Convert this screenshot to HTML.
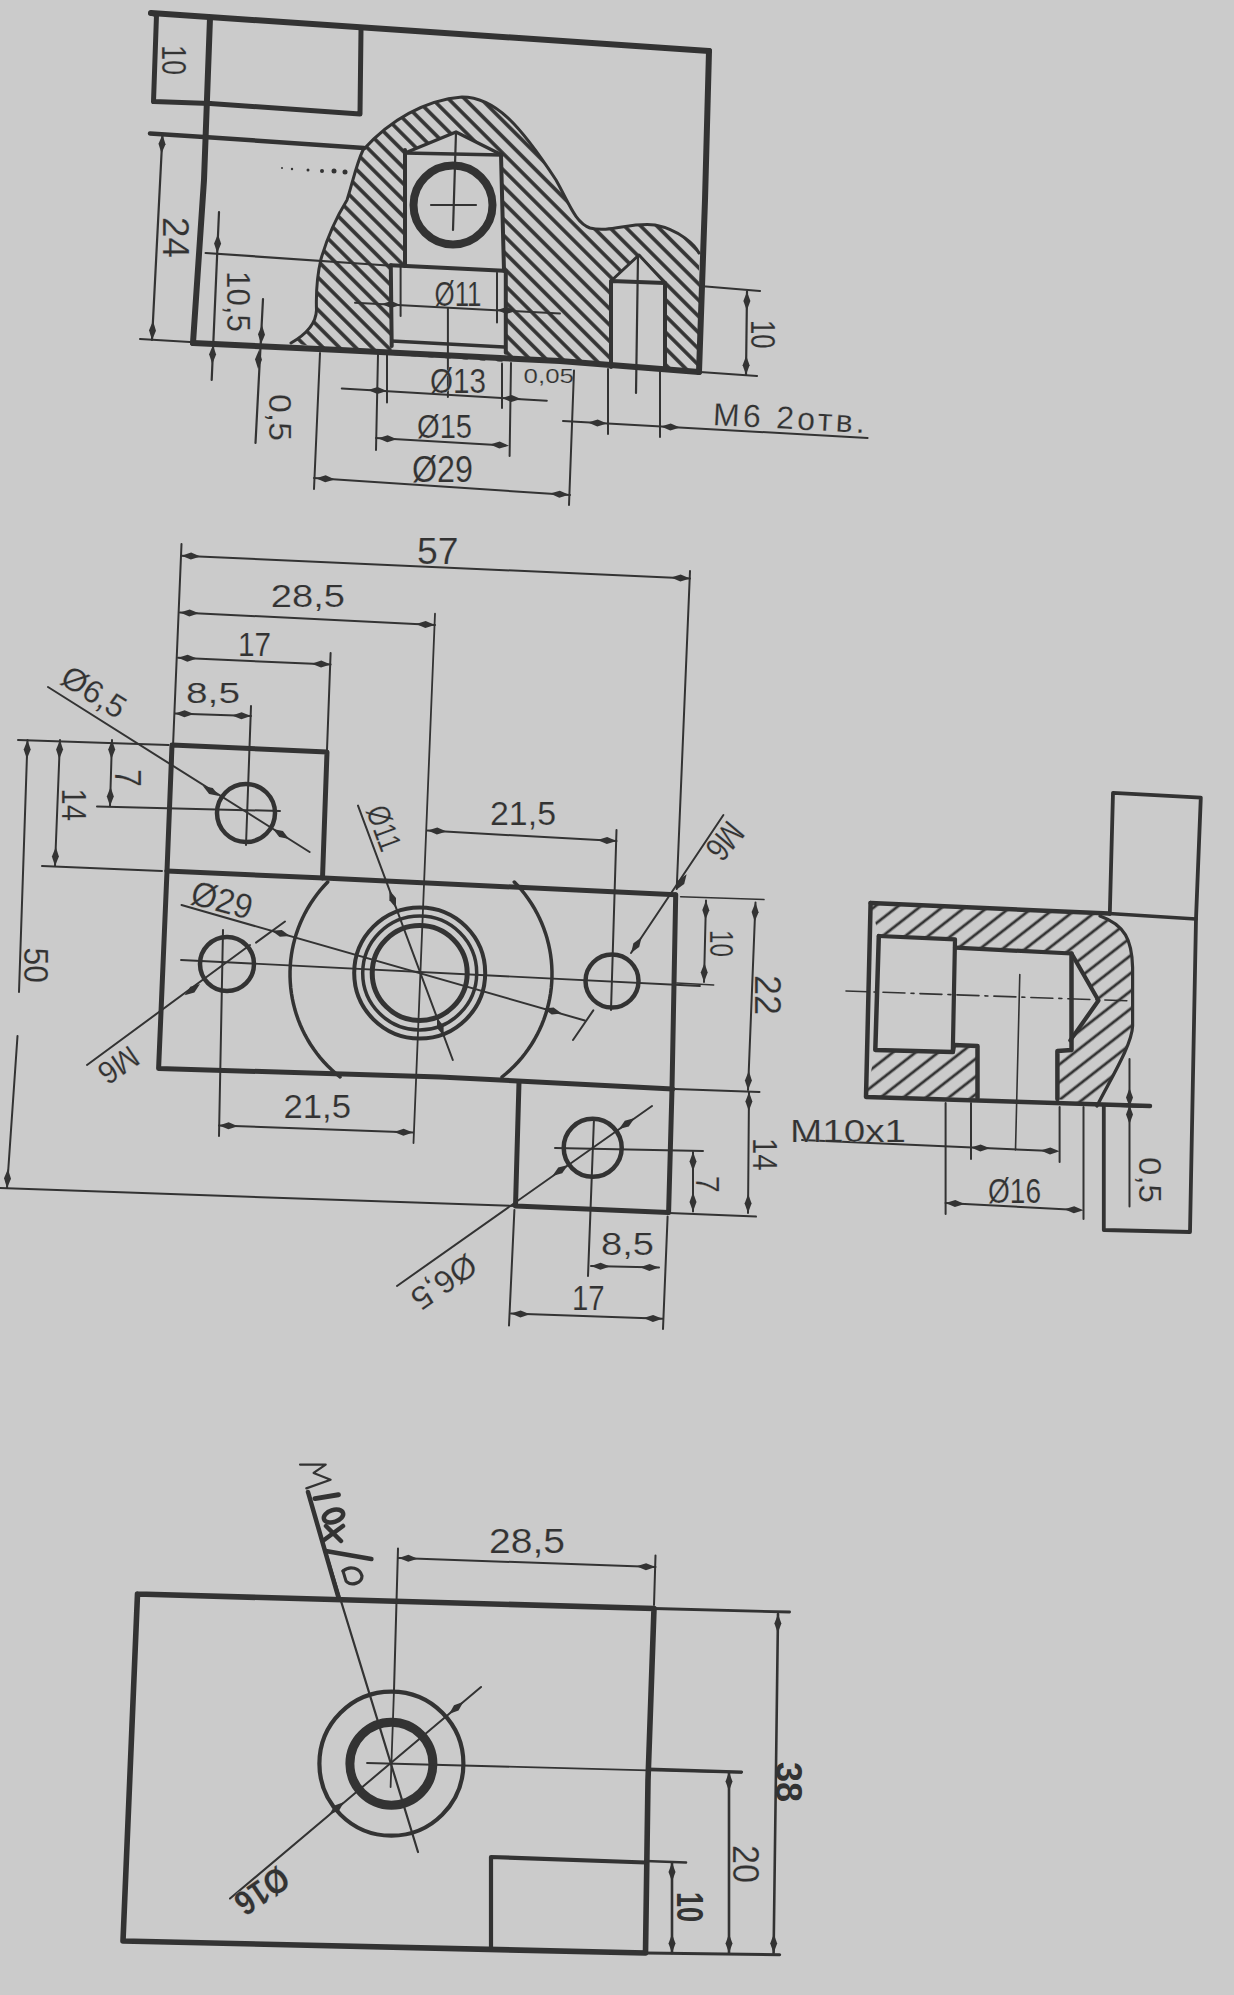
<!DOCTYPE html>
<html><head><meta charset="utf-8"><style>html,body{margin:0;padding:0;background:#cbcbcb;}svg{display:block;}</style></head>
<body><svg width="1234" height="1995" viewBox="0 0 1234 1995">
<defs>
<pattern id="hA" patternUnits="userSpaceOnUse" width="14" height="14" patternTransform="rotate(52)"><line x1="7" y1="0" x2="7" y2="14" stroke="#333" stroke-width="2.8"/></pattern>
<pattern id="hB" patternUnits="userSpaceOnUse" width="11.5" height="11.5" patternTransform="rotate(-45)"><line x1="5.75" y1="0" x2="5.75" y2="11.5" stroke="#333" stroke-width="3.6"/></pattern>
</defs>
<rect width="1234" height="1995" fill="#cbcbcb"/>
<g stroke="#333" fill="none" stroke-linecap="round" stroke-linejoin="round" font-family="'Liberation Sans', sans-serif">
<polyline points="151,13 430,32 709,51" stroke-width="6.0" fill="none"/>
<polyline points="709,51 705,200 699,372" stroke-width="6.0" fill="none"/>
<polyline points="210,18 204,180 193,343" stroke-width="6.0" fill="none"/>
<polyline points="193,343 340,350 560,361 699,372" stroke-width="6" fill="none"/>
<polyline points="151,13 156.5,15 153.5,101.5 210,103.5" stroke-width="5" fill="none"/>
<polyline points="210,103.5 360,114 361,30" stroke-width="5" fill="none"/>
<polyline points="150,133.5 204,137 364,148" stroke-width="4.5" fill="none"/>
<path d="M291,343 C305,335 316,325 316.5,310 C316,295 316,280 321,259 C328,235 336,218 347,200 C352,185 356,165 363,150 C390,120 425,100 462,97 C495,97 520,125 556,180 C570,205 575,222 590,228 C610,233 630,222 655,225 C680,230 695,245 699,253 L699,372 L560,361 L340,350 Z M405,153 L456,132 L502,155 L504,270.7 L505.8,362 L391.7,355 L390.8,265.3 L405,266 Z M611,367 L611,281 L639,255 L664,282 L665,369 Z" stroke-width="0" fill="url(#hB)" fill-rule="evenodd" stroke="none"/>
<path d="M291,343 C305,335 316,325 316.5,310 C316,295 316,280 321,259 C328,235 336,218 347,200 C352,185 356,165 363,150 C390,120 425,100 462,97 C495,97 520,125 556,180 C570,205 575,222 590,228 C610,233 630,222 655,225 C680,230 695,245 699,253" stroke-width="3" fill="none" />
<polyline points="405,153 456,132 502,155" stroke-width="3.5" fill="none"/>
<polyline points="405,153 502,155" stroke-width="3.5" fill="none"/>
<polyline points="405,150 405,266" stroke-width="4" fill="none"/>
<polyline points="501,155 504,270.7" stroke-width="4" fill="none"/>
<polyline points="390.8,265.3 504,270.7" stroke-width="4" fill="none"/>
<polyline points="390.8,265.3 391.7,346" stroke-width="4" fill="none"/>
<polyline points="505.8,270.7 505.8,352.7" stroke-width="4" fill="none"/>
<polyline points="391.7,341 504,347" stroke-width="3.5" fill="none"/>
<circle cx="453" cy="205" r="39.5" stroke-width="8"/>
<line x1="431" y1="205" x2="476" y2="205" stroke-width="2.2"/>
<line x1="456" y1="132" x2="453" y2="230" stroke-width="2.2"/>
<polyline points="611,367 611,281 665,283 665,369" stroke-width="4" fill="none"/>
<polyline points="611,281 639,255 665,283" stroke-width="3" fill="none"/>
<line x1="638" y1="255" x2="636" y2="393" stroke-width="2.2"/>
<circle cx="282" cy="168" r="1" fill="#333" stroke="none"/>
<circle cx="292" cy="169" r="1.2" fill="#333" stroke="none"/>
<circle cx="308" cy="170" r="1.5" fill="#333" stroke="none"/>
<circle cx="322" cy="171" r="2" fill="#333" stroke="none"/>
<circle cx="334" cy="171" r="2.5" fill="#333" stroke="none"/>
<circle cx="345" cy="172" r="2.5" fill="#333" stroke="none"/>
<text transform="translate(174.0,60.0) rotate(90)" x="0" y="12.0" font-size="34.8" textLength="30.1" lengthAdjust="spacingAndGlyphs" text-anchor="middle" fill="#333" stroke="#cbcbcb" stroke-width="0.2" font-weight="normal">10</text>
<line x1="162.5" y1="134.5" x2="152" y2="340" stroke-width="2.2"/>
<polygon points="162.5,134.5 165.5,144.2 161.5,153.5 158.5,143.8" fill="#333" stroke="none"/>
<polygon points="152.0,340.0 149.0,330.3 153.0,321.0 156.0,330.7" fill="#333" stroke="none"/>
<line x1="140" y1="339" x2="190" y2="342" stroke-width="2"/>
<text transform="translate(176.0,237.5) rotate(90)" x="0" y="13.0" font-size="37.7" textLength="41.1" lengthAdjust="spacingAndGlyphs" text-anchor="middle" fill="#333" stroke="#cbcbcb" stroke-width="0.2" font-weight="normal">24</text>
<line x1="219" y1="212" x2="211.7" y2="380" stroke-width="2.2"/>
<polygon points="217.2,253.0 214.1,243.4 218.0,234.0 221.1,243.7" fill="#333" stroke="none"/>
<polygon points="213.0,345.0 216.1,354.6 212.2,364.0 209.1,354.3" fill="#333" stroke="none"/>
<line x1="205.6" y1="253" x2="395" y2="266" stroke-width="2.2"/>
<text transform="translate(238.1,301.5) rotate(90)" x="0" y="11.4" font-size="32.9" textLength="61.0" lengthAdjust="spacingAndGlyphs" text-anchor="middle" fill="#333" stroke="#cbcbcb" stroke-width="0.2" font-weight="normal">10,5</text>
<line x1="263" y1="299" x2="255.5" y2="443" stroke-width="2.2"/>
<polygon points="261.0,344.0 258.0,334.3 261.9,325.0 265.0,334.7" fill="#333" stroke="none"/>
<polygon points="259.0,350.0 262.0,359.7 258.1,369.0 255.0,359.3" fill="#333" stroke="none"/>
<text transform="translate(280.0,417.5) rotate(90)" x="0" y="11.0" font-size="31.9" textLength="47.0" lengthAdjust="spacingAndGlyphs" text-anchor="middle" fill="#333" stroke="#cbcbcb" stroke-width="0.2" font-weight="normal">0,5</text>
<line x1="355" y1="302.8" x2="560" y2="313.5" stroke-width="2"/>
<polygon points="400.6,305.0 390.9,308.0 381.6,304.1 391.3,301.0" fill="#333" stroke="none"/>
<polygon points="497.0,310.0 506.7,307.0 516.0,310.9 506.3,314.0" fill="#333" stroke="none"/>
<line x1="400.6" y1="267" x2="400.6" y2="316" stroke-width="2"/>
<line x1="497" y1="272.5" x2="497" y2="322.4" stroke-width="2"/>
<text transform="translate(458.0,294.0) rotate(0)" x="0" y="12.0" font-size="34.8" textLength="47.0" lengthAdjust="spacingAndGlyphs" text-anchor="middle" fill="#333" stroke="#cbcbcb" stroke-width="0.2" font-weight="normal">Ø11</text>
<line x1="447.9" y1="308" x2="447.9" y2="397" stroke-width="2"/>
<line x1="341.8" y1="388.4" x2="546.8" y2="400.8" stroke-width="2"/>
<polygon points="387.0,391.0 377.3,393.9 368.0,389.9 377.7,386.9" fill="#333" stroke="none"/>
<polygon points="502.0,398.0 511.7,395.1 521.0,399.1 511.3,402.1" fill="#333" stroke="none"/>
<line x1="387" y1="354.5" x2="387" y2="402.6" stroke-width="2"/>
<line x1="502" y1="363.4" x2="502" y2="408" stroke-width="2"/>
<text transform="translate(458.0,381.0) rotate(0)" x="0" y="12.0" font-size="34.8" textLength="56.0" lengthAdjust="spacingAndGlyphs" text-anchor="middle" fill="#333" stroke="#cbcbcb" stroke-width="0.2" font-weight="normal">Ø13</text>
<text transform="translate(548.8,376.3) rotate(0)" x="0" y="6.7" font-size="19.4" textLength="50.4" lengthAdjust="spacingAndGlyphs" text-anchor="middle" fill="#333" stroke="#cbcbcb" stroke-width="0.2" font-weight="normal">0,05</text>
<line x1="376" y1="438" x2="505" y2="445.5" stroke-width="2"/>
<polygon points="378.0,438.2 387.7,435.3 397.0,439.3 387.3,442.3" fill="#333" stroke="none"/>
<polygon points="509.0,445.7 499.3,448.6 490.0,444.6 499.7,441.6" fill="#333" stroke="none"/>
<line x1="378" y1="354.5" x2="376" y2="450" stroke-width="2"/>
<line x1="511" y1="363" x2="509.6" y2="456" stroke-width="2"/>
<text transform="translate(444.5,426.5) rotate(0)" x="0" y="11.5" font-size="33.3" textLength="55.0" lengthAdjust="spacingAndGlyphs" text-anchor="middle" fill="#333" stroke="#cbcbcb" stroke-width="0.2" font-weight="normal">Ø15</text>
<line x1="314" y1="478" x2="570" y2="495" stroke-width="2"/>
<polygon points="316.0,478.2 325.7,475.3 335.0,479.5 325.2,482.3" fill="#333" stroke="none"/>
<polygon points="569.0,494.8 559.3,497.7 550.0,493.5 559.8,490.7" fill="#333" stroke="none"/>
<line x1="320" y1="353" x2="314" y2="489" stroke-width="2"/>
<line x1="574" y1="370.5" x2="569" y2="505" stroke-width="2"/>
<text transform="translate(442.5,469.5) rotate(0)" x="0" y="12.5" font-size="36.2" textLength="61.0" lengthAdjust="spacingAndGlyphs" text-anchor="middle" fill="#333" stroke="#cbcbcb" stroke-width="0.2" font-weight="normal">Ø29</text>
<line x1="563" y1="421" x2="867.6" y2="438" stroke-width="2"/>
<polygon points="607.0,423.5 597.3,426.5 588.0,422.4 597.7,419.5" fill="#333" stroke="none"/>
<polygon points="661.0,426.5 670.7,423.5 680.0,427.6 670.3,430.5" fill="#333" stroke="none"/>
<line x1="608" y1="369" x2="608" y2="434" stroke-width="2"/>
<line x1="660" y1="372" x2="660" y2="437" stroke-width="2"/>
<text transform="translate(789.0,418.0) rotate(3)" x="0" y="11.0" font-size="31.9" textLength="152.0" lengthAdjust="spacing" text-anchor="middle" fill="#333" stroke="#cbcbcb" stroke-width="0.2" font-weight="normal">M6 2отв.</text>
<line x1="700" y1="286" x2="760" y2="291" stroke-width="2.2"/>
<line x1="700" y1="372" x2="757" y2="376" stroke-width="2.2"/>
<line x1="747" y1="291.6" x2="746" y2="374.8" stroke-width="2.2"/>
<polygon points="747.0,291.6 750.4,301.1 746.8,310.6 743.4,301.1" fill="#333" stroke="none"/>
<polygon points="746.0,374.8 742.6,365.3 746.2,355.8 749.6,365.3" fill="#333" stroke="none"/>
<text transform="translate(763.0,334.2) rotate(90)" x="0" y="12.0" font-size="34.8" textLength="28.6" lengthAdjust="spacingAndGlyphs" text-anchor="middle" fill="#333" stroke="#cbcbcb" stroke-width="0.2" font-weight="normal">10</text>
<polyline points="167,871 172,745 327,752 322.5,878" stroke-width="5.0" fill="none"/>
<polyline points="167,871 158.6,1068.4 440,1077 672.7,1089" stroke-width="5.0" fill="none"/>
<polyline points="167,871 324,878 675.7,894.8" stroke-width="5.0" fill="none"/>
<polyline points="675.7,894.8 672,1089 668.6,1212.5" stroke-width="5.0" fill="none"/>
<polyline points="519,1082 515.5,1206 668.6,1212.5" stroke-width="5.0" fill="none"/>
<polyline points="327.7422925437259,882.0 323.9543190253115,886.004910340639 320.3381903309977,890.1656390603378 316.90030976480756,894.4748184979312 313.64676499571544,898.9248181213335 310.5833172778333,903.5077580393958 307.71539124859913,908.21552295532 305.0480653230344,913.0397765369196 302.5860627010785,917.9719761782812 300.3337430039248,923.003388126689 298.2950945541683,928.1251029480228 296.47372731343467,933.3280513032488 294.87286648999645,938.6030200080609 293.49534682769655,943.9406683472401 292.34360758629066,949.33154461484 291.4196882220982,954.7661028509101 290.7252247766106,960.2347197451209 290.2614469794503,965.7277116773585 290.02917607081235,971.2353518651128 290.02882334724336,976.7478875872966 290.2603894333329,982.2555574539952 290.7234642806074,987.7486086915668 291.41722789362905,993.2173144124858 292.3404517820122,998.6519908393475 293.49150113578776,1004.0430144525344 294.8683377202632,1009.3808390311822 296.46852348525124,1014.656012557266 298.289224882277,1019.8591939528771 300.3272178821187,1024.9811696210509 302.57889368379676,1030.0128697608548 305.04026510490183,1034.9453844278512 307.70697364194723,1039.769979311488 310.57429718824176,1044.4781112014875 313.63715839561803,1049.0614431158394 316.89013366520857,1053.511859063613 320.3274627513498,1057.8214784164484 323.9430589616072,1061.9826698632744 327.7305199348606,1065.9880649235463 331.6831389783626,1069.8305709950719 335.79391694369735,1073.5033839133246 340.05557462060773,1077.0" stroke-width="3.5" fill="none"/>
<polyline points="514.2577074562741,882.0 518.0456809746885,886.004910340639 521.6618096690023,890.1656390603379 525.0996902351925,894.4748184979312 528.3532350042846,898.9248181213335 531.4166827221667,903.5077580393958 534.2846087514008,908.21552295532 536.9519346769656,913.0397765369196 539.4139372989215,917.9719761782812 541.6662569960752,923.003388126689 543.7049054458317,928.1251029480229 545.5262726865653,933.3280513032488 547.1271335100035,938.6030200080609 548.5046531723035,943.9406683472401 549.6563924137093,949.3315446148401 550.5803117779018,954.7661028509101 551.2747752233894,960.2347197451209 551.7385530205497,965.7277116773585 551.9708239291876,971.2353518651128 551.9711766527566,976.7478875872966 551.7396105666671,982.2555574539952 551.2765357193925,987.7486086915668 550.582772106371,993.217314412486 549.6595482179878,998.6519908393475 548.5084988642122,1004.0430144525344 547.1316622797368,1009.3808390311822 545.5314765147488,1014.656012557266 543.710775117723,1019.8591939528773 541.6727821178813,1024.9811696210509 539.4211063162032,1030.0128697608548 536.9597348950981,1034.9453844278512 534.2930263580528,1039.769979311488 531.4257028117582,1044.4781112014875 528.362841604382,1049.0614431158394 525.1098663347914,1053.511859063613 521.6725372486502,1057.8214784164486 518.0569410383928,1061.9826698632746 514.2694800651394,1065.9880649235463 510.3168610216374,1069.8305709950719 506.2060830563026,1073.5033839133246 501.9444253793922,1077.0" stroke-width="3.5" fill="none"/>
<circle cx="419.7" cy="973" r="65.5" stroke-width="4"/>
<circle cx="419.7" cy="973" r="57" stroke-width="3.5"/>
<circle cx="419.7" cy="973" r="47.5" stroke-width="5"/>
<circle cx="246" cy="813" r="29" stroke-width="4.5"/>
<circle cx="227" cy="964" r="27" stroke-width="4.5"/>
<circle cx="612" cy="981" r="26.5" stroke-width="4.5"/>
<circle cx="592.7" cy="1147.8" r="29" stroke-width="4.5"/>
<line x1="181" y1="960" x2="700" y2="986" stroke-width="1.8"/>
<line x1="435" y1="613.7" x2="413.5" y2="1143" stroke-width="1.8"/>
<line x1="181.5" y1="544" x2="172" y2="770" stroke-width="2"/>
<line x1="690" y1="571" x2="676.7" y2="889" stroke-width="2"/>
<line x1="330.6" y1="653" x2="327" y2="750" stroke-width="2"/>
<line x1="251" y1="706" x2="246" y2="845" stroke-width="2"/>
<line x1="616.5" y1="830" x2="611" y2="1010" stroke-width="2"/>
<line x1="223" y1="930" x2="219" y2="1136" stroke-width="2"/>
<line x1="594" y1="1118" x2="588" y2="1276" stroke-width="2"/>
<line x1="555" y1="1148" x2="703" y2="1151" stroke-width="2"/>
<line x1="97" y1="806.5" x2="280" y2="811" stroke-width="2"/>
<line x1="18" y1="740" x2="168.6" y2="745" stroke-width="2"/>
<line x1="42" y1="866" x2="162" y2="871" stroke-width="2"/>
<line x1="674.4" y1="1089" x2="759.5" y2="1092" stroke-width="2"/>
<line x1="669" y1="1213" x2="756" y2="1216.6" stroke-width="2"/>
<line x1="680.6" y1="896.7" x2="764" y2="899.6" stroke-width="1.5"/>
<line x1="676.7" y1="983" x2="713.7" y2="985" stroke-width="1.5"/>
<line x1="0" y1="1188" x2="514" y2="1206" stroke-width="2"/>
<line x1="181.5" y1="555.7" x2="690" y2="578.5" stroke-width="2"/>
<polygon points="181.5,555.7 191.1,552.6 200.5,556.6 190.8,559.6" fill="#333" stroke="none"/>
<polygon points="690.0,578.5 680.4,581.6 671.0,577.6 680.7,574.6" fill="#333" stroke="none"/>
<text transform="translate(437.8,551.5) rotate(0)" x="0" y="12.5" font-size="36.2" textLength="41.6" lengthAdjust="spacingAndGlyphs" text-anchor="middle" fill="#333" stroke="#cbcbcb" stroke-width="0.2" font-weight="normal">57</text>
<line x1="180" y1="612.4" x2="435" y2="625" stroke-width="2"/>
<polygon points="180.0,612.4 189.7,609.4 199.0,613.3 189.3,616.4" fill="#333" stroke="none"/>
<polygon points="435.0,625.0 425.3,628.0 416.0,624.1 425.7,621.0" fill="#333" stroke="none"/>
<text transform="translate(307.9,596.0) rotate(0)" x="0" y="11.0" font-size="31.9" textLength="74.3" lengthAdjust="spacingAndGlyphs" text-anchor="middle" fill="#333" stroke="#cbcbcb" stroke-width="0.2" font-weight="normal">28,5</text>
<line x1="178" y1="657.8" x2="330.6" y2="664.5" stroke-width="2"/>
<polygon points="178.0,657.8 187.6,654.7 197.0,658.6 187.3,661.7" fill="#333" stroke="none"/>
<polygon points="330.6,664.5 321.0,667.6 311.6,663.7 321.3,660.6" fill="#333" stroke="none"/>
<text transform="translate(254.5,644.5) rotate(0)" x="0" y="11.5" font-size="33.3" textLength="33.1" lengthAdjust="spacingAndGlyphs" text-anchor="middle" fill="#333" stroke="#cbcbcb" stroke-width="0.2" font-weight="normal">17</text>
<line x1="175" y1="713.5" x2="251" y2="716" stroke-width="2"/>
<polygon points="175.0,713.5 184.6,710.3 194.0,714.1 184.4,717.3" fill="#333" stroke="none"/>
<polygon points="251.0,716.0 241.4,719.2 232.0,715.4 241.6,712.2" fill="#333" stroke="none"/>
<text transform="translate(213.0,692.5) rotate(0)" x="0" y="10.5" font-size="30.4" textLength="54.0" lengthAdjust="spacingAndGlyphs" text-anchor="middle" fill="#333" stroke="#cbcbcb" stroke-width="0.2" font-weight="normal">8,5</text>
<line x1="27.5" y1="740" x2="19" y2="992" stroke-width="2"/>
<line x1="17.5" y1="1036" x2="7" y2="1188" stroke-width="2"/>
<polygon points="27.5,740.0 30.7,749.6 26.9,759.0 23.7,749.4" fill="#333" stroke="none"/>
<polygon points="7.0,1188.0 4.0,1178.3 7.9,1169.0 11.0,1178.7" fill="#333" stroke="none"/>
<text transform="translate(36.3,965.2) rotate(90)" x="0" y="12.3" font-size="35.7" textLength="35.6" lengthAdjust="spacingAndGlyphs" text-anchor="middle" fill="#333" stroke="#cbcbcb" stroke-width="0.2" font-weight="normal">50</text>
<line x1="60" y1="740" x2="55" y2="866" stroke-width="2"/>
<polygon points="60.0,740.0 63.1,749.6 59.2,759.0 56.1,749.4" fill="#333" stroke="none"/>
<polygon points="55.0,866.0 51.9,856.4 55.8,847.0 58.9,856.6" fill="#333" stroke="none"/>
<text transform="translate(73.8,804.8) rotate(90)" x="0" y="12.2" font-size="35.4" textLength="32.5" lengthAdjust="spacingAndGlyphs" text-anchor="middle" fill="#333" stroke="#cbcbcb" stroke-width="0.2" font-weight="normal">14</text>
<line x1="112" y1="740" x2="110" y2="806" stroke-width="2"/>
<polygon points="112.0,740.0 115.2,749.6 111.4,759.0 108.2,749.4" fill="#333" stroke="none"/>
<polygon points="110.0,806.0 106.8,796.4 110.6,787.0 113.8,796.6" fill="#333" stroke="none"/>
<text transform="translate(128.0,778.0) rotate(90)" x="0" y="13.0" font-size="37.7" textLength="18.0" lengthAdjust="spacingAndGlyphs" text-anchor="middle" fill="#333" stroke="#cbcbcb" stroke-width="0.2" font-weight="normal">7</text>
<line x1="48" y1="687" x2="309.6" y2="852" stroke-width="2"/>
<polygon points="219.0,796.0 209.1,793.9 202.9,785.9 212.8,788.0" fill="#333" stroke="none"/>
<polygon points="273.0,829.0 282.9,831.1 289.1,839.1 279.2,837.0" fill="#333" stroke="none"/>
<text transform="translate(94.0,692.0) rotate(32)" x="0" y="11.0" font-size="31.9" textLength="69.9" lengthAdjust="spacingAndGlyphs" text-anchor="middle" fill="#333" stroke="#cbcbcb" stroke-width="0.2" font-weight="normal">Ø6,5</text>
<line x1="358" y1="805.6" x2="452.8" y2="1060" stroke-width="2"/>
<polygon points="396.0,908.0 389.4,900.3 389.4,890.2 396.0,897.9" fill="#333" stroke="none"/>
<polygon points="437.0,1018.0 443.6,1025.7 443.6,1035.8 437.0,1028.1" fill="#333" stroke="none"/>
<text transform="translate(384.0,828.0) rotate(70)" x="0" y="11.0" font-size="31.9" textLength="46.0" lengthAdjust="spacingAndGlyphs" text-anchor="middle" fill="#333" stroke="#cbcbcb" stroke-width="0.2" font-weight="normal">Ø11</text>
<line x1="181.5" y1="905" x2="584.8" y2="1020.5" stroke-width="2"/>
<polygon points="290.0,936.0 279.9,936.8 271.7,930.8 281.8,930.0" fill="#333" stroke="none"/>
<polygon points="543.5,1008.4 553.6,1007.6 561.8,1013.6 551.7,1014.4" fill="#333" stroke="none"/>
<line x1="256" y1="942.6" x2="285" y2="921.5" stroke-width="2"/>
<line x1="573" y1="1040" x2="593.3" y2="1010.4" stroke-width="2"/>
<text transform="translate(222.0,900.0) rotate(15)" x="0" y="12.0" font-size="34.8" textLength="62.0" lengthAdjust="spacingAndGlyphs" text-anchor="middle" fill="#333" stroke="#cbcbcb" stroke-width="0.2" font-weight="normal">Ø29</text>
<line x1="723.4" y1="815" x2="631" y2="953" stroke-width="2"/>
<polygon points="676.0,890.0 678.4,880.2 686.6,874.2 684.2,884.1" fill="#333" stroke="none"/>
<polygon points="631.0,953.0 633.4,943.2 641.6,937.2 639.2,947.1" fill="#333" stroke="none"/>
<text transform="translate(725.0,841.0) rotate(130)" x="0" y="12.0" font-size="34.8" textLength="38.0" lengthAdjust="spacingAndGlyphs" text-anchor="middle" fill="#333" stroke="#cbcbcb" stroke-width="0.2" font-weight="normal">M6</text>
<line x1="87" y1="1065" x2="250" y2="945" stroke-width="2"/>
<polygon points="200.0,984.0 194.4,992.5 184.7,995.3 190.3,986.8" fill="#333" stroke="none"/>
<text transform="translate(118.5,1065.0) rotate(146)" x="0" y="11.0" font-size="31.9" textLength="42.0" lengthAdjust="spacingAndGlyphs" text-anchor="middle" fill="#333" stroke="#cbcbcb" stroke-width="0.2" font-weight="normal">M6</text>
<line x1="427.6" y1="830.6" x2="616.5" y2="841" stroke-width="2"/>
<polygon points="427.6,830.6 437.3,827.6 446.6,831.6 436.9,834.6" fill="#333" stroke="none"/>
<polygon points="616.5,841.0 606.8,844.0 597.5,840.0 607.2,837.0" fill="#333" stroke="none"/>
<text transform="translate(523.0,813.5) rotate(0)" x="0" y="11.5" font-size="33.3" textLength="66.0" lengthAdjust="spacingAndGlyphs" text-anchor="middle" fill="#333" stroke="#cbcbcb" stroke-width="0.2" font-weight="normal">21,5</text>
<line x1="706" y1="900.6" x2="704" y2="982" stroke-width="2"/>
<polygon points="706.0,900.6 709.3,910.2 705.5,919.6 702.3,910.0" fill="#333" stroke="none"/>
<polygon points="704.0,982.0 700.7,972.4 704.5,963.0 707.7,972.6" fill="#333" stroke="none"/>
<text transform="translate(721.5,943.5) rotate(90)" x="0" y="11.5" font-size="33.3" textLength="27.1" lengthAdjust="spacingAndGlyphs" text-anchor="middle" fill="#333" stroke="#cbcbcb" stroke-width="0.2" font-weight="normal">10</text>
<line x1="755.5" y1="902.6" x2="748" y2="1090" stroke-width="2"/>
<polygon points="755.5,902.6 758.6,912.2 754.7,921.6 751.6,912.0" fill="#333" stroke="none"/>
<polygon points="748.0,1090.0 744.9,1080.4 748.8,1071.0 751.9,1080.6" fill="#333" stroke="none"/>
<text transform="translate(768.0,995.0) rotate(90)" x="0" y="13.0" font-size="37.7" textLength="40.1" lengthAdjust="spacingAndGlyphs" text-anchor="middle" fill="#333" stroke="#cbcbcb" stroke-width="0.2" font-weight="normal">22</text>
<line x1="749" y1="1092" x2="748" y2="1213" stroke-width="2"/>
<polygon points="749.0,1092.0 752.4,1101.5 748.8,1111.0 745.4,1101.5" fill="#333" stroke="none"/>
<polygon points="748.0,1213.0 744.6,1203.5 748.2,1194.0 751.6,1203.5" fill="#333" stroke="none"/>
<text transform="translate(764.6,1154.3) rotate(90)" x="0" y="11.9" font-size="34.5" textLength="32.7" lengthAdjust="spacingAndGlyphs" text-anchor="middle" fill="#333" stroke="#cbcbcb" stroke-width="0.2" font-weight="normal">14</text>
<line x1="693" y1="1152" x2="693" y2="1211.5" stroke-width="2"/>
<polygon points="693.0,1152.0 696.5,1161.5 693.0,1171.0 689.5,1161.5" fill="#333" stroke="none"/>
<polygon points="693.0,1211.5 689.5,1202.0 693.0,1192.5 696.5,1202.0" fill="#333" stroke="none"/>
<text transform="translate(708.2,1184.2) rotate(90)" x="0" y="11.8" font-size="34.1" textLength="17.0" lengthAdjust="spacingAndGlyphs" text-anchor="middle" fill="#333" stroke="#cbcbcb" stroke-width="0.2" font-weight="normal">7</text>
<line x1="219" y1="1125.5" x2="413" y2="1132.6" stroke-width="2"/>
<polygon points="219.0,1125.5 228.6,1122.3 238.0,1126.2 228.4,1129.3" fill="#333" stroke="none"/>
<polygon points="413.0,1132.6 403.4,1135.8 394.0,1131.9 403.6,1128.8" fill="#333" stroke="none"/>
<text transform="translate(317.2,1106.5) rotate(0)" x="0" y="11.5" font-size="33.3" textLength="67.6" lengthAdjust="spacingAndGlyphs" text-anchor="middle" fill="#333" stroke="#cbcbcb" stroke-width="0.2" font-weight="normal">21,5</text>
<line x1="591" y1="1266" x2="659" y2="1267.6" stroke-width="2"/>
<polygon points="591.0,1266.0 600.6,1262.7 610.0,1266.4 600.4,1269.7" fill="#333" stroke="none"/>
<polygon points="659.0,1267.6 649.4,1270.9 640.0,1267.2 649.6,1263.9" fill="#333" stroke="none"/>
<line x1="667.6" y1="1216.6" x2="663" y2="1329" stroke-width="2"/>
<line x1="514.4" y1="1210" x2="509" y2="1325.5" stroke-width="2"/>
<text transform="translate(627.5,1244.3) rotate(0)" x="0" y="10.7" font-size="31.0" textLength="53.0" lengthAdjust="spacingAndGlyphs" text-anchor="middle" fill="#333" stroke="#cbcbcb" stroke-width="0.2" font-weight="normal">8,5</text>
<line x1="511" y1="1313.6" x2="662.5" y2="1318.7" stroke-width="2"/>
<polygon points="511.0,1313.6 520.6,1310.4 530.0,1314.2 520.4,1317.4" fill="#333" stroke="none"/>
<polygon points="662.5,1318.7 652.9,1321.9 643.5,1318.1 653.1,1314.9" fill="#333" stroke="none"/>
<text transform="translate(588.3,1298.0) rotate(0)" x="0" y="12.0" font-size="34.8" textLength="32.7" lengthAdjust="spacingAndGlyphs" text-anchor="middle" fill="#333" stroke="#cbcbcb" stroke-width="0.2" font-weight="normal">17</text>
<line x1="397" y1="1286" x2="652" y2="1106" stroke-width="2"/>
<polygon points="568.0,1165.0 562.2,1173.3 552.4,1175.9 558.2,1167.6" fill="#333" stroke="none"/>
<polygon points="619.0,1129.0 624.8,1120.7 634.6,1118.1 628.8,1126.4" fill="#333" stroke="none"/>
<text transform="translate(444.0,1282.0) rotate(145)" x="0" y="11.0" font-size="31.9" textLength="71.9" lengthAdjust="spacingAndGlyphs" text-anchor="middle" fill="#333" stroke="#cbcbcb" stroke-width="0.2" font-weight="normal">Ø6,5</text>
<polyline points="1109.8,914 1113,792.8 1200.8,797.6 1196,919 1190,1232 1103.8,1230 1103.8,1105" stroke-width="3.8" fill="none"/>
<line x1="1109" y1="913.5" x2="1196" y2="919" stroke-width="3.5"/>
<path d="M870.6,903 L1109,913.5 L1102,917 C1125,925 1132,940 1132.6,967.6 L1132.6,1026 C1132,1045 1110,1080 1097,1106 L1057.4,1099 L1057.4,1051 L1071.5,1050 L1070.3,1040.4 L1098.5,1000.5 L1071.5,953.5 L955,947.6 L955,939.4 L878.8,936 L875.3,1050 L952.8,1052 L954,1045 L977.5,1046 L977.5,1098 L866,1097 Z" stroke-width="0" fill="url(#hA)" stroke="none"/>
<polygon points="870.6,903 878.8,936 875.3,1050 866,1097 866,1040 870,903" fill="#cbcbcb" stroke="none"/>
<polyline points="870.6,903 1109,913.5" stroke-width="4.5" fill="none"/>
<polyline points="870.6,903 866,1097 1150,1106" stroke-width="4.5" fill="none"/>
<polyline points="878.8,936 875.3,1050 952.8,1052 954,1045 977.5,1046 977.5,1098" stroke-width="4.5" fill="none"/>
<polyline points="878.8,936 955,939.4 952.8,1052" stroke-width="4.2" fill="none"/>
<polyline points="955,947.6 1071.5,953.5 1098.5,1000.5 1070.3,1040.4" stroke-width="4.2" fill="none"/>
<polyline points="1071.5,953.5 1071.5,1050 1057.4,1051 1057.4,1099" stroke-width="4.5" fill="none"/>
<path d="M1100,916 C1125,925 1132,940 1132.6,967.6 L1132.6,1026 C1132,1045 1110,1080 1097,1106" stroke-width="3.2" fill="none" />
<line x1="846" y1="991" x2="1133" y2="1001" stroke-width="1.6" stroke-dasharray="22 6 3 6"/>
<line x1="1019.8" y1="974.6" x2="1015.5" y2="1150" stroke-width="1.6"/>
<line x1="802" y1="1140" x2="1052" y2="1151" stroke-width="2"/>
<polygon points="971.0,1147.5 980.6,1144.4 990.0,1148.3 980.3,1151.4" fill="#333" stroke="none"/>
<polygon points="1059.6,1151.3 1050.0,1154.4 1040.6,1150.5 1050.3,1147.4" fill="#333" stroke="none"/>
<line x1="971" y1="1103" x2="971" y2="1159" stroke-width="2"/>
<line x1="1059.6" y1="1107" x2="1059.6" y2="1162" stroke-width="2"/>
<text transform="translate(848.0,1131.0) rotate(0)" x="0" y="11.0" font-size="31.9" textLength="116.0" lengthAdjust="spacingAndGlyphs" text-anchor="middle" fill="#333" stroke="#cbcbcb" stroke-width="0.2" font-weight="normal">M10x1</text>
<line x1="945.6" y1="1203" x2="1078" y2="1210" stroke-width="2"/>
<polygon points="945.6,1203.0 955.3,1200.0 964.6,1204.0 954.9,1207.0" fill="#333" stroke="none"/>
<polygon points="1083.5,1210.3 1073.8,1213.3 1064.5,1209.3 1074.2,1206.3" fill="#333" stroke="none"/>
<line x1="945.6" y1="1103" x2="945.6" y2="1214" stroke-width="2"/>
<line x1="1083.5" y1="1107" x2="1083.5" y2="1219" stroke-width="2"/>
<text transform="translate(1014.5,1191.0) rotate(0)" x="0" y="12.0" font-size="34.8" textLength="53.0" lengthAdjust="spacingAndGlyphs" text-anchor="middle" fill="#333" stroke="#cbcbcb" stroke-width="0.2" font-weight="normal">Ø16</text>
<line x1="1100" y1="1105" x2="1140.6" y2="1107" stroke-width="2"/>
<line x1="1129.5" y1="1059" x2="1129.5" y2="1206.5" stroke-width="2"/>
<polygon points="1129.5,1105.0 1133.0,1114.5 1129.5,1124.0 1126.0,1114.5" fill="#333" stroke="none"/>
<polygon points="1129.5,1107.0 1126.0,1097.5 1129.5,1088.0 1133.0,1097.5" fill="#333" stroke="none"/>
<text transform="translate(1150.0,1180.0) rotate(90)" x="0" y="11.0" font-size="31.9" textLength="46.0" lengthAdjust="spacingAndGlyphs" text-anchor="middle" fill="#333" stroke="#cbcbcb" stroke-width="0.2" font-weight="normal">0,5</text>
<polyline points="137.5,1594 654,1608.5 648,1780 645.5,1953 123,1941 137.5,1594" stroke-width="5.6" fill="none"/>
<polyline points="491,1947 491,1857 645.5,1862.5" stroke-width="4.2" fill="none"/>
<circle cx="391.4" cy="1763.7" r="72" stroke-width="4.2"/>
<circle cx="391.4" cy="1763.7" r="41.5" stroke-width="9"/>
<line x1="367" y1="1763" x2="741.5" y2="1772.8" stroke-width="1.8"/>
<line x1="394" y1="1689.6" x2="390.6" y2="1787" stroke-width="1.8"/>
<line x1="398" y1="1548.6" x2="394" y2="1690" stroke-width="2"/>
<line x1="308" y1="1493.5" x2="418" y2="1852" stroke-width="2.2"/>
<line x1="308" y1="1492" x2="338" y2="1596" stroke-width="4.5"/>
<polyline points="300,1464.6 325.7,1464.6 313.6,1472.9 330.6,1479.7 306.3,1488.4" stroke-width="2.2" fill="none"/>
<line x1="315" y1="1498.6" x2="338.4" y2="1494.7" stroke-width="5"/>
<ellipse cx="333.5" cy="1516" rx="10" ry="6" transform="rotate(-18 333.5 1516)" stroke-width="4.5"/>
<line x1="324" y1="1540" x2="343" y2="1526" stroke-width="4.5"/>
<line x1="326" y1="1526" x2="341" y2="1541" stroke-width="4.5"/>
<line x1="325.7" y1="1551" x2="371.4" y2="1559" stroke-width="4.5"/>
<path d="M343,1571 C350,1565 360,1568 362,1576 C362,1583 352,1586 347,1582" stroke-width="3.2" fill="none" />
<line x1="343" y1="1571" x2="346" y2="1581" stroke-width="3"/>
<line x1="481" y1="1687" x2="230" y2="1898.6" stroke-width="2"/>
<polygon points="449.0,1714.0 454.0,1705.2 463.5,1701.8 458.5,1710.6" fill="#333" stroke="none"/>
<polygon points="344.0,1802.0 339.0,1810.8 329.5,1814.2 334.5,1805.4" fill="#333" stroke="none"/>
<text transform="translate(262.0,1891.0) rotate(146)" x="0" y="12.0" font-size="34.8" textLength="58.0" lengthAdjust="spacingAndGlyphs" text-anchor="middle" fill="#333" stroke="#cbcbcb" stroke-width="0.2" font-weight="bold">Ø16</text>
<line x1="398.8" y1="1558" x2="655.5" y2="1567" stroke-width="2"/>
<polygon points="398.8,1558.0 408.4,1554.8 417.8,1558.7 408.2,1561.8" fill="#333" stroke="none"/>
<polygon points="655.5,1567.0 645.9,1570.2 636.5,1566.3 646.1,1563.2" fill="#333" stroke="none"/>
<line x1="655.5" y1="1555.4" x2="654" y2="1605" stroke-width="2"/>
<text transform="translate(527.0,1541.0) rotate(0)" x="0" y="12.0" font-size="34.8" textLength="76.0" lengthAdjust="spacingAndGlyphs" text-anchor="middle" fill="#333" stroke="#cbcbcb" stroke-width="0.2" font-weight="normal">28,5</text>
<line x1="654" y1="1608.5" x2="789.6" y2="1612" stroke-width="2.8"/>
<line x1="645.5" y1="1953" x2="779.7" y2="1954.7" stroke-width="3"/>
<line x1="648" y1="1769" x2="741.7" y2="1772" stroke-width="2.8"/>
<line x1="645.5" y1="1861" x2="686" y2="1862.5" stroke-width="2.6"/>
<line x1="778" y1="1614" x2="773.6" y2="1953" stroke-width="2.6"/>
<polygon points="778.0,1614.0 781.4,1623.5 777.8,1633.0 774.4,1623.5" fill="#333" stroke="none"/>
<polygon points="773.6,1953.0 770.2,1943.5 773.8,1934.0 777.2,1943.5" fill="#333" stroke="none"/>
<text transform="translate(789.0,1782.0) rotate(90)" x="0" y="13.0" font-size="37.7" textLength="40.1" lengthAdjust="spacingAndGlyphs" text-anchor="middle" fill="#333" stroke="none" font-weight="bold">38</text>
<line x1="729" y1="1772" x2="729" y2="1953" stroke-width="2.6"/>
<polygon points="729.0,1772.0 732.5,1781.5 729.0,1791.0 725.5,1781.5" fill="#333" stroke="none"/>
<polygon points="729.0,1953.0 725.5,1943.5 729.0,1934.0 732.5,1943.5" fill="#333" stroke="none"/>
<text transform="translate(746.0,1864.0) rotate(90)" x="0" y="13.0" font-size="37.7" textLength="38.1" lengthAdjust="spacingAndGlyphs" text-anchor="middle" fill="#333" stroke="#cbcbcb" stroke-width="0.2" font-weight="normal">20</text>
<line x1="672" y1="1862.5" x2="672" y2="1953" stroke-width="2.6"/>
<polygon points="672.0,1862.5 675.5,1872.0 672.0,1881.5 668.5,1872.0" fill="#333" stroke="none"/>
<polygon points="672.0,1953.0 668.5,1943.5 672.0,1934.0 675.5,1943.5" fill="#333" stroke="none"/>
<text transform="translate(690.0,1907.0) rotate(90)" x="0" y="13.0" font-size="37.7" textLength="30.1" lengthAdjust="spacingAndGlyphs" text-anchor="middle" fill="#333" stroke="none" font-weight="bold">10</text>
</g></svg></body></html>
